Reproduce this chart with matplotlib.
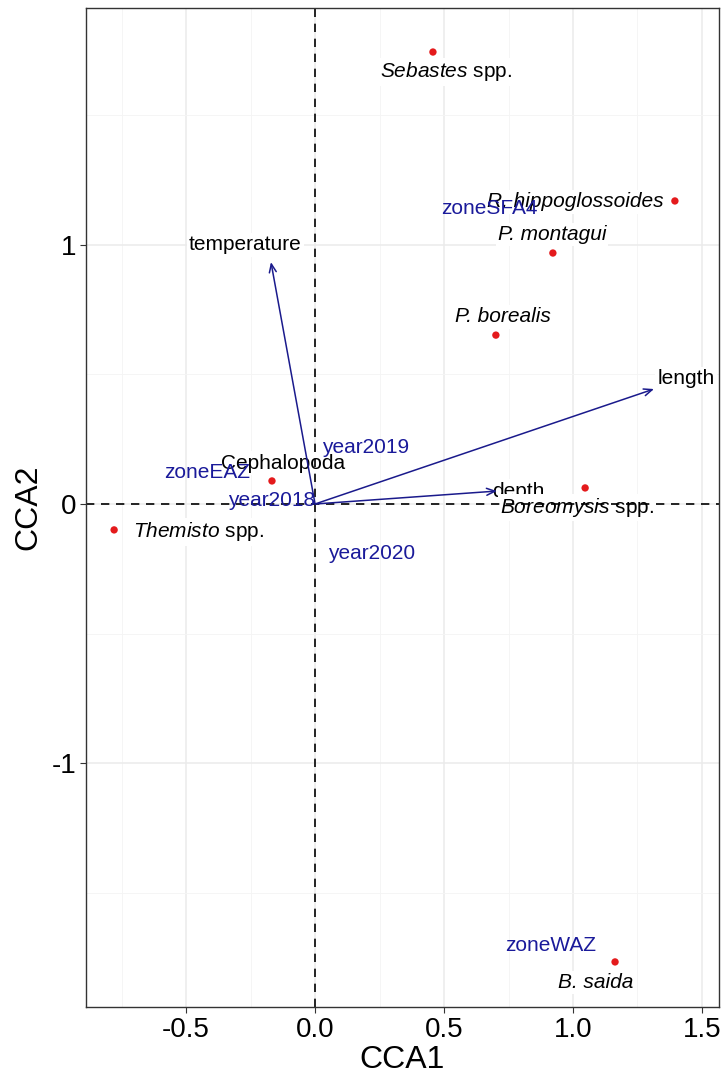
import matplotlib

matplotlib.use("Agg")
import matplotlib.pyplot as plt
from matplotlib.ticker import MultipleLocator, FuncFormatter

plt.rcParams["font.family"] = ["Liberation Sans", "DejaVu Sans"]
plt.rcParams["mathtext.fontset"] = "custom"
plt.rcParams["mathtext.it"] = "Liberation Sans:italic"
plt.rcParams["mathtext.rm"] = "Liberation Sans"

# species scores (red points)
species = [
    r"$\mathit{Sebastes}$ spp.",
    "R. hippoglossoides",
    "P. montagui",
    "P. borealis",
    r"$\mathit{Boreomysis}$ spp.",
    r"$\mathit{Themisto}$ spp.",
    "Cephalopoda",
    "B. saida",
]
species_italic = [False, True, True, True, False, False, False, True]
species_x = [0.457, 1.395, 0.922, 0.701, 1.047, -0.779, -0.167, 1.163]
species_y = [1.745, 1.170, 0.969, 0.652, 0.062, -0.100, 0.089, -1.768]
# repelled label positions
species_lab_x = [0.508, 1.008, 0.919, 0.729, 1.015, -0.450, -0.124, 1.088]
species_lab_y = [1.668, 1.166, 1.039, 0.722, -0.012, -0.108, 0.158, -1.846]

# continuous environmental vectors
env_names = ["temperature", "length", "depth"]
env_x = [-0.171, 1.314, 0.705]
env_y = [0.934, 0.444, 0.050]
env_lab_x = [-0.27, 1.438, 0.787]
env_lab_y = [1.00, 0.486, 0.050]

# factor centroids
centroid_names = ["year2019", "zoneEAZ", "year2018", "year2020", "zoneSFA4", "zoneWAZ"]
centroid_x = [0.194, -0.417, -0.170, 0.218, 0.674, 0.912]
centroid_y = [0.220, 0.120, 0.015, -0.190, 1.139, -1.703]

fig = plt.figure(figsize=(7.27, 10.8), dpi=100)
ax = fig.add_axes([0.1183, 0.0676, 0.8707, 0.925])

ax.set_xlim(-0.888, 1.566)
ax.set_ylim(-1.942, 1.915)
ax.xaxis.set_major_locator(MultipleLocator(0.5))
ax.xaxis.set_minor_locator(MultipleLocator(0.25))
ax.yaxis.set_major_locator(MultipleLocator(1.0))
ax.yaxis.set_minor_locator(MultipleLocator(0.5))
ax.xaxis.set_major_formatter(FuncFormatter(lambda v, p: f"{v:.1f}"))
ax.yaxis.set_major_formatter(FuncFormatter(lambda v, p: f"{v:g}"))

ax.grid(True, which="major", color="#EBEBEB", linewidth=1.1, zorder=0)
ax.grid(True, which="minor", color="#F4F4F4", linewidth=0.6, zorder=0)
ax.set_axisbelow(True)
for spine in ax.spines.values():
    spine.set_color("#333333")
    spine.set_linewidth(1.0)
ax.tick_params(which="major", length=4, color="#333333", labelsize=20, labelcolor="black", pad=3)
ax.tick_params(which="minor", length=0)

# labels with white boxes sit under the reference lines and arrows
for name, x, y in zip(env_names, env_lab_x, env_lab_y):
    ax.text(x, y, name, fontsize=15, color="black", ha="center", va="center", zorder=1,
            bbox=dict(facecolor="white", edgecolor="none", pad=1.5))

for name, it, x, y in zip(species, species_italic, species_lab_x, species_lab_y):
    ax.text(x, y, name, fontsize=15, style="italic" if it else "normal", color="black",
            ha="center", va="center", zorder=1,
            bbox=dict(facecolor="white", edgecolor="none", pad=1.5))

ax.axhline(0, color="black", linestyle=(0, (5, 4)), linewidth=1.2, zorder=2)
ax.axvline(0, color="black", linestyle=(0, (5, 4)), linewidth=1.2, zorder=2)

for x, y in zip(env_x, env_y):
    ax.annotate(
        "",
        xy=(x, y),
        xytext=(0, 0),
        arrowprops=dict(arrowstyle="->,head_length=0.6,head_width=0.25", color="#1a1a8c", lw=1.1,
                        shrinkA=0, shrinkB=0),
        zorder=3,
    )

ax.scatter(species_x, species_y, s=28, color="#E41A1C", edgecolors="none", zorder=4)

for name, x, y in zip(centroid_names, centroid_x, centroid_y):
    ax.text(x, y, name, fontsize=15, color="#1a1a9a", ha="center", va="center", zorder=5)

ax.set_xlabel("CCA1", fontsize=23, labelpad=2)
ax.set_ylabel("CCA2", fontsize=23, labelpad=6)

fig.savefig("out.png", dpi=100)
